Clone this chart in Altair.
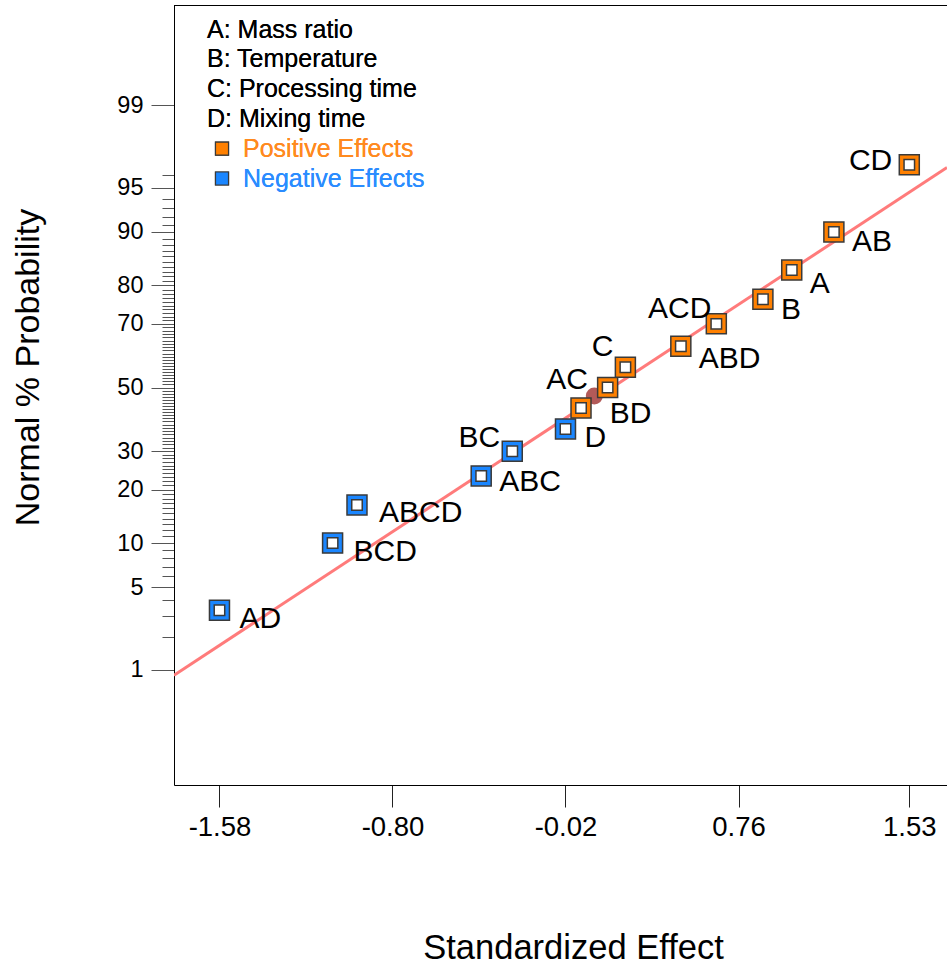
import altair as alt
import pandas as pd
from statistics import NormalDist

# ---- effect estimates (normal probability plot) ----
terms = ["AD", "BCD", "ABCD", "ABC", "BC", "D", "AC", "BD", "C", "ABD", "ACD", "B", "A", "AB", "CD"]
effects = [-1.58, -1.07, -0.96, -0.40, -0.26, -0.02, 0.05, 0.17, 0.25, 0.50, 0.66, 0.87, 1.00, 1.19, 1.53]
probs = [3.33, 10.0, 16.67, 23.33, 30.0, 36.67, 43.33, 50.0, 56.67, 63.33, 70.0, 76.67, 83.33, 90.0, 96.67]

# fitted reference line (two end points) and centre marker
line_effect = [-1.785, 1.70]
line_prob = [0.89, 96.5]
centre_effect = [0.11]
centre_prob = [47.2]

# axis ticks
x_ticks = [-1.58, -0.80, -0.02, 0.76, 1.53]
major_pct = [1, 5, 10, 20, 30, 50, 70, 80, 90, 95, 99]
minor_pct = [p for p in range(2, 97) if p not in major_pct]

factor_lines = ["A: Mass ratio", "B: Temperature", "C: Processing time", "D: Mixing time"]
sign_labels = ["Positive Effects", "Negative Effects"]

ORANGE = "#ff8000"
BLUE = "#1a86ff"
EDGE = "#3a3a3a"
FONT = "Liberation Sans"

W, H = 773, 780

nd = NormalDist()
tick_z = [nd.inv_cdf(p / 100) for p in sorted(major_pct + minor_pct)]
major_test = ("indexof([" + ",".join(str(p) for p in major_pct) +
              "], round(cumulativeNormal(datum.value)*100)) >= 0")

df = pd.DataFrame({"term": terms, "effect": effects, "prob": probs})
df["sign"] = ["Positive Effects" if e > 0 else "Negative Effects" for e in effects]
line_df = pd.DataFrame({"effect": line_effect, "prob": line_prob})
centre_df = pd.DataFrame({"effect": centre_effect, "prob": centre_prob})

x_scale = alt.Scale(domain=[-1.785, 1.70], nice=False, zero=False)
y_scale = alt.Scale(domain=[-3.274, 3.151], nice=False, zero=False)

x_enc = alt.X(
    "effect:Q", scale=x_scale,
    axis=alt.Axis(
        values=x_ticks,
        labelExpr="(datum.value < 0 ? '-' : '') + format(abs(datum.value), '.2f')",
        tickSize=22, tickColor="#222",
        domainColor="#000", labelFontSize=27.5, labelPadding=6, labelColor="#000",
        grid=False, title="Standardized Effect", titleFontSize=34.5,
        titleFontWeight="normal", titleX=399, titleY=163,
        titleBaseline="middle", titleAlign="center", labelFont=FONT, titleFont=FONT,
    ),
)
y_enc = alt.Y(
    "z:Q", scale=y_scale,
    axis=alt.Axis(
        values=tick_z,
        labelExpr=("(" + major_test + ") ? format(round(cumulativeNormal(datum.value)*100), 'd') : ''"),
        tickSize={"condition": {"test": major_test, "value": 23}, "value": 12},
        tickColor="#555", domainColor="#000", labelFontSize=23.5, labelPadding=8,
        labelColor="#000", labelOverlap=False, labelBound=False, grid=False,
        title="Normal % Probability", titleFontSize=34, titleFontWeight="normal",
        titleX=-146, titleY=362, titleAngle=-90, titleAlign="center",
        titleBaseline="middle", labelFont=FONT, titleFont=FONT,
    ),
)

to_z = {"z": "quantileNormal(datum.prob/100)"}

base = alt.Chart(df).transform_calculate(**to_z)

frame_top = alt.Chart(line_df).mark_rule(color="#000", strokeWidth=1).encode(
    x=alt.value(0), x2=alt.value(W), y=alt.value(0.5)
)

fit_line = alt.Chart(line_df).transform_calculate(**to_z).mark_line(
    color="#ff7b7b", strokeWidth=3, clip=True
).encode(x=x_enc, y=y_enc)

centre = alt.Chart(centre_df).transform_calculate(**to_z).mark_circle(
    size=290, color="#b35a58", opacity=1
).encode(x=x_enc, y=y_enc)

colour = alt.Color(
    "sign:N",
    scale=alt.Scale(domain=sign_labels, range=[ORANGE, BLUE]),
    legend=None,
)
outer = base.mark_square(size=400, stroke=EDGE, strokeWidth=1.5, opacity=1, filled=True).encode(
    x=x_enc, y=y_enc, fill=colour
)
inner = base.mark_square(size=110, fill="white", stroke=EDGE, strokeWidth=1.5, opacity=1, filled=True).encode(
    x=x_enc, y=y_enc
)

# label placement per term: (align, dx, dy)
placement = {
    "CD": ("right", -17, -4), "AB": ("left", 18, 10), "A": ("left", 18, 14),
    "B": ("left", 18, 11), "ACD": ("right", -5, -15), "ABD": ("left", 18, 13),
    "C": ("right", -12, -20), "AC": ("right", 7, -28), "BD": ("left", 2, 26),
    "D": ("left", 19, 9), "BC": ("right", -12, -13), "ABC": ("left", 18, 6),
    "ABCD": ("left", 22, 8), "BCD": ("left", 21, 9), "AD": ("left", 20, 9),
}
labels = []
for t in terms:
    align, dx, dy = placement[t]
    labels.append(
        base.transform_filter(alt.datum.term == t).mark_text(
            align=align, baseline="middle", dx=dx, dy=dy, fontSize=30,
            font=FONT, color="#000",
        ).encode(x=x_enc, y=y_enc, text="term:N")
    )

# in-plot key
key = []
for i, txt in enumerate(factor_lines):
    key.append(alt.Chart(line_df).mark_text(
        text=txt, align="left", baseline="middle", fontSize=25, font=FONT, color="#000"
    ).encode(x=alt.value(33), y=alt.value(24.5 + 29.8 * i)))
for j, (txt, col, tcol) in enumerate(zip(sign_labels, [ORANGE, BLUE], ["#ff8a1f", "#2a8cff"])):
    yy = 24.5 + 29.8 * (4 + j)
    key.append(alt.Chart(line_df).mark_square(
        size=170, fill=col, stroke=EDGE, strokeWidth=1.2, opacity=1, filled=True
    ).encode(x=alt.value(48), y=alt.value(yy)))
    key.append(alt.Chart(line_df).mark_text(
        text=txt, align="left", baseline="middle", fontSize=25, font=FONT, color=tcol
    ).encode(x=alt.value(69), y=alt.value(yy)))

chart = alt.layer(
    frame_top, fit_line, centre, outer, inner, *labels, *key
).properties(
    width=W, height=H,
    autosize=alt.AutoSizeParams(type="none"),
    padding={"left": 174, "top": 5, "right": 0, "bottom": 183},
).configure_view(stroke=None).configure(background="white")

chart.save("out.html", embed_options={"renderer": "svg", "actions": False})
